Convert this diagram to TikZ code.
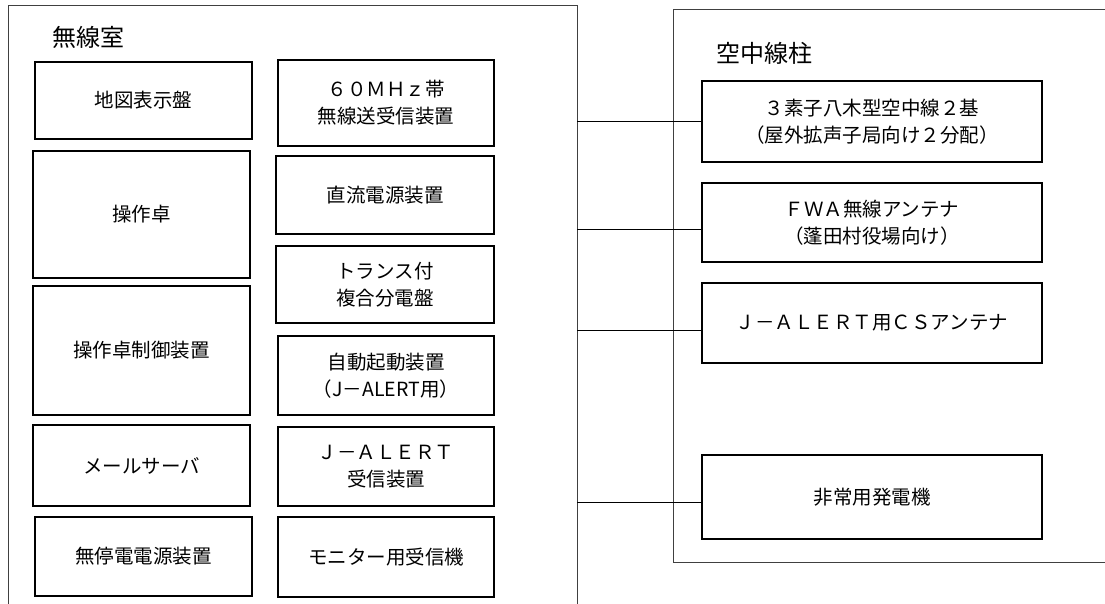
\documentclass[tikz,border=0pt]{standalone}
\usepackage{fontspec}
\setmainfont{Noto Sans CJK JP}
\usepackage{tikz}

\begin{document}
\begin{tikzpicture}[x=1pt,y=-1pt,
  frame/.style={draw=black!75, line width=0.9pt, inner sep=0pt},
  box/.style={draw, line width=1.4pt, inner sep=0pt, align=center,
    font=\fontsize{19.5}{27}\selectfont},
  title/.style={anchor=west, inner sep=0pt, font=\fontsize{24}{28}\selectfont},
  wire/.style={line width=0.9pt}]
\clip (0,0) rectangle (1105,603);
\fill[white] (0,0) rectangle (1105,603);
\node[frame, minimum width=569pt, minimum height=620pt] (room) at (292.5,315) {};
\node[frame, minimum width=447pt, minimum height=553pt] (pole) at (896.5,285.5) {};
\node[title] (roomname) at (52,37) {無線室};
\node[title] (polename) at (716,53) {空中線柱};
\node[box, minimum width=217pt, minimum height=77pt] (map) at (143.5,100.5) {地図表示盤};
\node[box, minimum width=217pt, minimum height=127pt] (console) at (141.5,214.5) {操作卓};
\node[box, minimum width=217pt, minimum height=129pt] (ctrl) at (141.5,350.5) {操作卓制御装置};
\node[box, minimum width=217pt, minimum height=81pt] (mail) at (141.5,465.5) {メールサーバ};
\node[box, minimum width=217pt, minimum height=79pt] (ups) at (143.5,556.5) {無停電電源装置};
\node[box, minimum width=216pt, minimum height=86pt] (radio) at (386,103) {６０ＭＨｚ帯\\無線送受信装置};
\node[box, minimum width=218pt, minimum height=78pt] (dc) at (385,195) {直流電源装置};
\node[box, minimum width=218pt, minimum height=77pt] (panel) at (385,284.5) {トランス付\\複合分電盤};
\node[box, minimum width=216pt, minimum height=79pt] (auto) at (386,375.5) {自動起動装置\\（J－ALERT用）};
\node[box, minimum width=216pt, minimum height=79pt] (jrecv) at (386,466.5) {Ｊ－ＡＬＥＲＴ\\受信装置};
\node[box, minimum width=216pt, minimum height=80pt] (monitor) at (386,557) {モニター用受信機};
\node[box, minimum width=340pt, minimum height=81pt] (yagi) at (872,121.5) {３素子八木型空中線２基\\（屋外拡声子局向け２分配）};
\node[box, minimum width=340pt, minimum height=79pt] (fwa) at (872,222.5) {ＦＷＡ無線アンテナ\\（蓬田村役場向け）};
\node[box, minimum width=340pt, minimum height=80pt] (cs) at (872,323) {Ｊ－ＡＬＥＲＴ用ＣＳアンテナ};
\node[box, minimum width=340pt, minimum height=84pt] (gen) at (872,497) {非常用発電機};
\draw[wire] (yagi.west) -- (yagi.west -| room.east);
\draw[wire] ([yshift=-6.5pt]fwa.west) -- ([yshift=-6.5pt]fwa.west -| room.east);
\draw[wire] ([yshift=-7pt]cs.west) -- ([yshift=-7pt]cs.west -| room.east);
\draw[wire] ([yshift=-5pt]gen.west) -- ([yshift=-5pt]gen.west -| room.east);
\end{tikzpicture}
\end{document}
